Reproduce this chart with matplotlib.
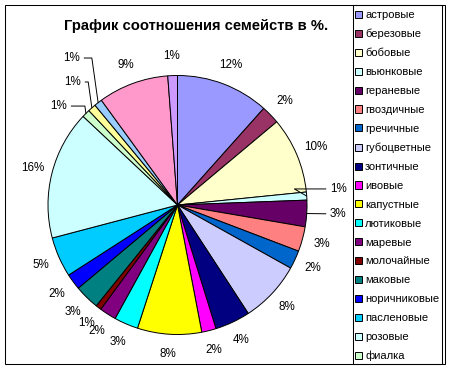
import matplotlib
matplotlib.use("Agg")
import matplotlib.pyplot as plt
import matplotlib.patches as patches
import numpy as np

plt.rcParams['font.family'] = ['Liberation Sans', 'DejaVu Sans']

# shares of each family, %, clockwise from 12 o'clock
families = ["астровые", "березовые", "бобовые", "вьюнковые", "гераневые",
            "гвоздичные", "гречичные", "губоцветные", "зонтичные", "ивовые",
            "капустные", "лютиковые", "маревые", "молочайные", "маковые",
            "норичниковые", "пасленовые", "розовые", "фиалка",
            "прочие 1", "прочие 2", "прочие 3", "прочие 4"]
shares = [11.6, 2.3, 9.5, 1.0, 3.3, 3.1, 2.3, 7.7, 4.4, 1.8, 8.0, 3.0, 2.1,
          0.7, 3.1, 2.0, 5.0, 16.1, 1.0, 1.0, 1.0, 8.8, 1.2]
colors = ["#9999FF", "#993366", "#FFFFCC", "#CCFFFF", "#660066", "#FF8080",
          "#0066CC", "#CCCCFF", "#000080", "#FF00FF", "#FFFF00", "#00FFFF",
          "#800080", "#800000", "#008080", "#0000FF", "#00CCFF", "#CCFFFF",
          "#CCFFCC", "#FFFF99", "#99CCFF", "#FF99CC", "#CC99FF"]
n_legend = 19  # the legend box is too short, only 19 entries fit

W, H = 454, 370
fig = plt.figure(figsize=(W / 100, H / 100), dpi=100)

# pie centre (177.5, 205) px, radius 129.5 px
R = 129.5
lim = 1.3
side = 2 * lim * R
ax = fig.add_axes([(177.5 - side / 2) / W, (H - 205 - side / 2) / H, side / W, side / H])

wedges, texts, autotexts = ax.pie(
    shares, colors=colors, startangle=90, counterclock=False,
    autopct='%1.0f%%', pctdistance=1.155,
    wedgeprops=dict(edgecolor='black', linewidth=0.7),
    textprops=dict(fontsize=8.4, color='black'))
ax.set_xlim(-lim, lim)
ax.set_ylim(-lim, lim)
ax.set_aspect('equal')

# small slices get a leader line: index -> (text x, text y, ha)
leaders = {3: (1.178, 0.124, 'left'),
           4: (1.178, -0.069, 'left'),
           20: (-0.753, 1.135, 'right'),
           19: (-0.745, 0.95, 'right'),
           18: (-0.853, 0.764, 'right')}
for i, (tx, ty, ha) in leaders.items():
    autotexts[i].set_visible(False)
    w = wedges[i]
    mid = np.deg2rad((w.theta1 + w.theta2) / 2)
    px, py = np.cos(mid), np.sin(mid)
    if ha == 'left':
        cs = "angle,angleA=0,angleB=-30,rad=0" if i == 3 else "arc3"
    else:
        cs = "angle,angleA=0,angleB=-82,rad=0"
    ax.annotate(autotexts[i].get_text(), xy=(px, py), xytext=(tx, ty),
                ha=ha, va='center', fontsize=8.4,
                arrowprops=dict(arrowstyle='-', color='black', lw=0.7,
                                shrinkA=1, shrinkB=0, connectionstyle=cs))

fig.text(196.5 / W, 1 - 26 / H, "График соотношения семейств в %.",
         ha='center', va='center', fontsize=10.6, fontweight='bold')

# chart border and legend frame
fig.patches.append(patches.Rectangle((5 / W, (H - 363.5) / H), 439.5 / W, 358.5 / H,
                                     transform=fig.transFigure, fill=False,
                                     edgecolor='black', linewidth=0.75))
fig.patches.append(patches.Rectangle((353 / W, (H - 363.5) / H), 88.5 / W, 358.5 / H,
                                     transform=fig.transFigure, fill=False,
                                     edgecolor='black', linewidth=0.75))

fig.legend(wedges[:n_legend], families[:n_legend], loc='upper left',
           bbox_to_anchor=(355 / W, 1 - 10 / H), frameon=False, fontsize=8,
           borderaxespad=0, borderpad=0, handlelength=0.6, handleheight=0.6,
           handletextpad=0.3, labelspacing=0.8)

fig.savefig("out.png", dpi=100)
